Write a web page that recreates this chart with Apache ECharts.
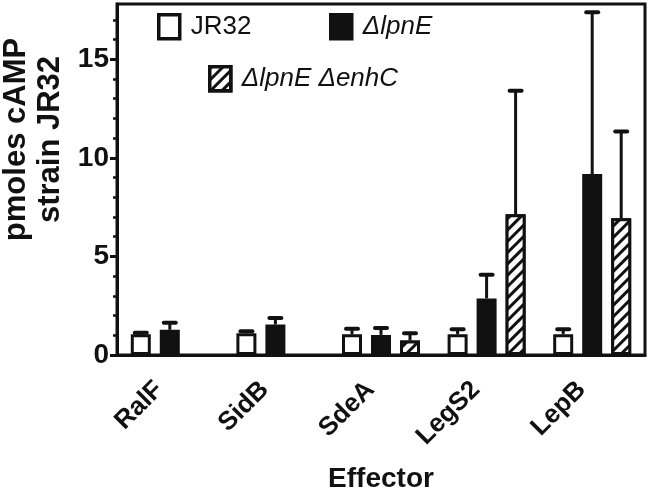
<!DOCTYPE html>
<html><head><meta charset="utf-8">
<script src="https://cdn.jsdelivr.net/npm/echarts@6/dist/echarts.min.js"></script>
<style>html,body{margin:0;padding:0;background:#fff}#c{width:650px;height:488px}</style>
</head><body><div id="c"></div>
<script>
const categories = ['RalF','SidB','SdeA','LegS2','LepB'];
const seriesNames = ['JR32','ΔlpnE','ΔlpnE ΔenhC'];
const jr32 = [1.05,1.1,1.05,1.05,1.05];
const jr32Err = [0.08,0.1,0.28,0.25,0.25];
const lpnE = [1.28,1.55,1.02,2.87,9.18];
const lpnEErr = [0.35,0.33,0.35,1.2,8.2];
const lpnEenhC = [null,null,0.74,7.14,6.94];
const lpnEenhCErr = [null,null,0.36,6.26,4.4];
const yLabelValues = [0,5,10,15];
const yMinorTickValues = [1,2,3,4,6,7,8,9,11,12,13,14,16,17];
const yMax = 17.8;

const FONT = 'Liberation Sans, Arial, sans-serif';
const INK = '#111';
const BAR_W = 20, GAP = 9;

function errSeries(slot, means, errs){
  const data = [];
  means.forEach((m,i)=>{ if(m!=null) data.push([i, m, m+errs[i]]); });
  return {
    type:'custom', name: seriesNames[slot]+' err', z:3, silent:true,
    encode:{x:0, y:[1,2]},
    data,
    renderItem(params, api){
      const x = api.coord([api.value(0), 0])[0] + (slot-1)*(BAR_W+GAP);
      const y0 = api.coord([api.value(0), api.value(1)])[1];
      const y1 = api.coord([api.value(0), api.value(2)])[1];
      return {type:'group', children:[
        {type:'line', shape:{x1:x,y1:y0,x2:x,y2:y1}, style:{stroke:INK, lineWidth:3}},
        {type:'line', shape:{x1:x-6,y1:y1,x2:x+6,y2:y1}, style:{stroke:INK, lineWidth:4, lineCap:'round'}}
      ]};
    }
  };
}

const hatch = {symbol:'rect', symbolSize:1, rotation:-Math.PI/4, dashArrayX:[[1,0]], dashArrayY:[2.5,4.5], color:INK, backgroundColor:'#fff'};

const legendBase = {
  selectedMode:false, icon:'rect', itemWidth:21, itemHeight:24, padding:0,
  itemStyle:{borderWidth:3.5},
  textStyle:{fontFamily:FONT, fontSize:26, color:INK, padding:[0,0,0,6]}
};

const chart = echarts.init(document.getElementById('c'));
chart.setOption({
  animation:false,
  backgroundColor:'#fff',
  grid:{left:117, right:5, top:4, bottom:133, show:true, borderColor:INK, borderWidth:3, containLabel:false, outerBoundsMode:'none'},
  legend:[
    Object.assign({}, legendBase, {data:['JR32'], left:157, top:13}),
    Object.assign({}, legendBase, {data:['ΔlpnE'], left:329, top:13, textStyle:Object.assign({}, legendBase.textStyle, {fontStyle:'italic'})}),
    Object.assign({}, legendBase, {data:['ΔlpnE ΔenhC'], left:208, top:65, textStyle:Object.assign({}, legendBase.textStyle, {fontStyle:'italic'})})
  ],
  xAxis:{
    type:'category', data:categories,
    axisLine:{lineStyle:{color:INK, width:3}},
    axisTick:{alignWithLabel:true, length:6, lineStyle:{color:INK, width:3}},
    axisLabel:{rotate:45, interval:0, margin:20, padding:[0,15,0,0], fontFamily:FONT, fontSize:26, fontWeight:'bold', color:INK},
    name:'Effector', nameLocation:'middle', nameGap:110,
    nameTextStyle:{fontFamily:FONT, fontSize:28, fontWeight:'bold', color:INK}
  },
  yAxis:[{
    type:'value', min:0, max:yMax,
    axisLine:{show:true, lineStyle:{color:INK, width:3}},
    axisTick:{show:true, customValues:yLabelValues, length:7, lineStyle:{color:INK, width:3}},
    axisLabel:{customValues:yLabelValues, margin:8, fontFamily:FONT, fontSize:28, fontWeight:'bold', color:INK},
    splitLine:{show:false},
    name:'pmoles cAMP\nstrain JR32', nameLocation:'middle', nameGap:46, nameRotate:90,
    nameTextStyle:{fontFamily:FONT, fontSize:31, fontWeight:'bold', color:INK, lineHeight:34, padding:[0,0,0,80]}
  },{
    type:'value', min:0, max:yMax, position:'left', offset:0,
    axisLine:{show:false},
    axisTick:{show:true, customValues:yMinorTickValues, length:4, lineStyle:{color:INK, width:2.5}},
    axisLabel:{show:false},
    splitLine:{show:false}
  }],
  series:[
    {type:'bar', name:seriesNames[0], data:jr32, barWidth:BAR_W, barGap:(GAP/BAR_W*100)+'%', z:2,
     itemStyle:{color:'#fff', borderColor:INK, borderWidth:3}},
    {type:'bar', name:seriesNames[1], data:lpnE, barWidth:BAR_W, barGap:(GAP/BAR_W*100)+'%', z:2,
     itemStyle:{color:INK, borderColor:INK, borderWidth:3}},
    {type:'bar', name:seriesNames[2], data:lpnEenhC, barWidth:BAR_W, barGap:(GAP/BAR_W*100)+'%', z:2,
     itemStyle:{color:'#fff', borderColor:INK, borderWidth:3, decal:hatch}},
    errSeries(0, jr32, jr32Err),
    errSeries(1, lpnE, lpnEErr),
    errSeries(2, lpnEenhC, lpnEenhCErr)
  ]
});
</script></body></html>
